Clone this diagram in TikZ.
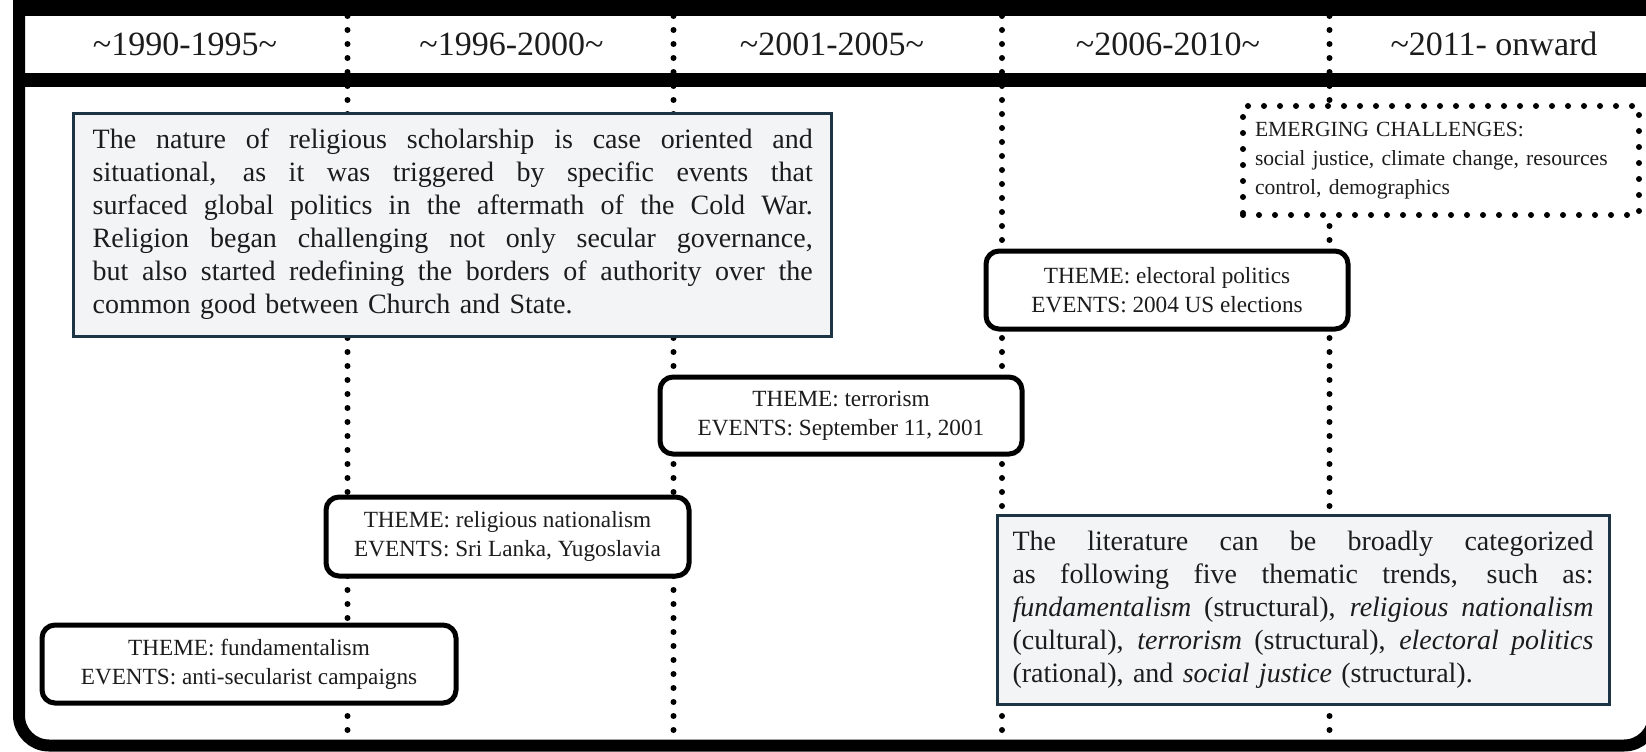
\documentclass[tikz,border=0pt]{standalone}
\usepackage{fontspec}
\setmainfont{Liberation Serif}
\definecolor{slate}{RGB}{28,52,68}
\definecolor{notefill}{RGB}{243,244,246}
\definecolor{inkc}{RGB}{28,28,28}
\newcommand{\jline}[2]{\makebox[#1][s]{\spaceskip=\fontdimen2\font plus 1fil\relax\xspaceskip=\spaceskip #2}\\}
\begin{document}
\begin{tikzpicture}[x=0.5pt,y=-0.5pt,
  dotline/.style={line width=3pt, dash pattern=on 0pt off 7pt, line cap=round, draw=black},
  band/.style={fill=black, draw=none},
  yearlbl/.style={font=\fontsize{17}{20}\selectfont, text=inkc, inner sep=0pt, anchor=center},
  themebox/.style={draw=black, line width=2.5pt, rounded corners=6.5pt, fill=white, align=center,
    font=\fontsize{11.6}{14.5}\selectfont, text=inkc, inner sep=0pt},
  notebox/.style={draw=slate, line width=1.5pt, fill=notefill, align=left,
    font=\fontsize{14}{16.5}\selectfont, text=inkc, inner ysep=0pt},
  emergbox/.style={draw=black, line width=3pt, dash pattern=on 0pt off 8pt, line cap=round, fill=white,
    align=left, font=\fontsize{10.8}{14.5}\selectfont, text=inkc, inner ysep=0pt}
]
\useasboundingbox (0,0) rectangle (1646,751);
\clip (0,0) rectangle (1646,751);

% dotted period separators
\foreach \n/\xx in {1/347.5,2/673.5,3/1002,4/1329.5}{
  \coordinate (d\n t) at (\xx,16);
  \coordinate (d\n b) at (\xx,742);
  \draw[dotline] (d\n t) -- (d\n b);
}

% frame
\draw[line width=6pt, rounded corners=15pt] (19,-20) -- (19,745.5) -- (1654,745.5) -- (1654,-20);
\fill[band] (13,0) rectangle (1646,16);
\fill[band] (13,73) rectangle (1646,87);

% period labels
\node[yearlbl] (p1) at (185,44) {\textasciitilde1990-1995\textasciitilde};
\node[yearlbl] (p2) at (511.5,44) {\textasciitilde1996-2000\textasciitilde};
\node[yearlbl] (p3) at (832,44) {\textasciitilde2001-2005\textasciitilde};
\node[yearlbl] (p4) at (1168,44) {\textasciitilde2006-2010\textasciitilde};
\node[yearlbl] (p5) at (1494,44) {\textasciitilde2011- onward};

% note boxes
\node[notebox, text width=360pt, inner xsep=9.6pt, minimum height=111.5pt] (nature) at (452.75,224.5) {%
\jline{360pt}{The nature of religious scholarship is case oriented and}%
\jline{360pt}{situational, as it was triggered by specific events that}%
\jline{360pt}{surfaced global politics in the aftermath of the Cold War.}%
\jline{360pt}{Religion began challenging not only secular governance,}%
\jline{360pt}{but also started redefining the borders of authority over the}%
common good between Church and State.};

\node[notebox, text width=290.5pt, inner xsep=7.75pt, minimum height=94.5pt] (lit) at (1303,609.5) {%
\jline{290.5pt}{The literature can be broadly categorized}%
\jline{290.5pt}{as following five thematic trends, such as:}%
\jline{290.5pt}{\textit{fundamentalism} (structural), \textit{religious nationalism}}%
\jline{290.5pt}{(cultural), \textit{terrorism} (structural), \textit{electoral politics}}%
(rational), and \textit{social justice} (structural).};

% emerging challenges
\node[emergbox, text width=186pt, inner xsep=6pt, minimum height=54.5pt] (emerg) at (1441,160.5) {%
EMERGING CHALLENGES:\\
social justice, climate change, resources\\
control, demographics};

% theme boxes
\node[themebox, minimum width=207pt, minimum height=39pt] (fund) at (249,664)
  {THEME: fundamentalism\\EVENTS: anti-secularist campaigns};
\node[themebox, minimum width=181.5pt, minimum height=39.5pt] (relig) at (507.5,536.5)
  {THEME: religious nationalism\\EVENTS: Sri Lanka, Yugoslavia};
\node[themebox, minimum width=181pt, minimum height=38.5pt] (terror) at (841,415.5)
  {THEME: terrorism\\EVENTS: September 11, 2001};
\node[themebox, minimum width=181pt, minimum height=39pt] (elect) at (1167,290)
  {THEME: electoral politics\\EVENTS: 2004 US elections};
\end{tikzpicture}
\end{document}
